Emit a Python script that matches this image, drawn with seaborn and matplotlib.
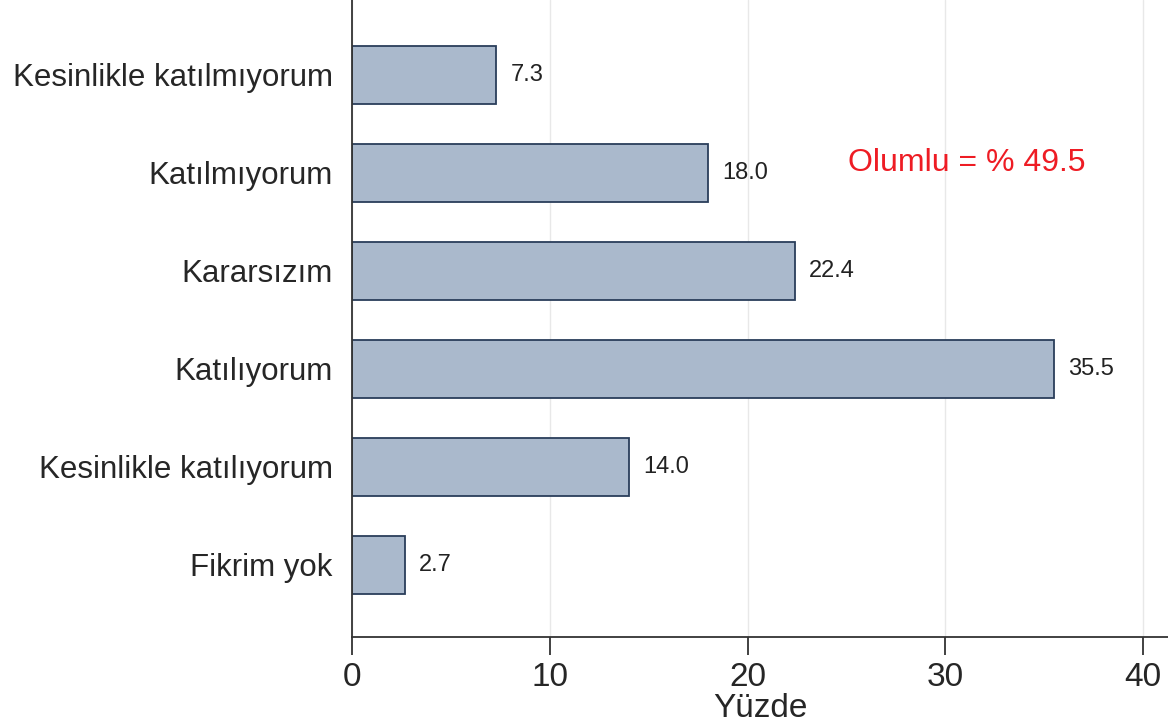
import matplotlib
matplotlib.use("Agg")
import matplotlib.pyplot as plt
import seaborn as sns
import pandas as pd

categories = [
    "Kesinlikle katılmıyorum",
    "Katılmıyorum",
    "Kararsızım",
    "Katılıyorum",
    "Kesinlikle katılıyorum",
    "Fikrim yok",
]
percent = [7.3, 18.0, 22.4, 35.5, 14.0, 2.7]
x_ticks = [0, 10, 20, 30, 40]
note = "Olumlu = % 49.5"

df = pd.DataFrame({"kategori": categories, "yuzde": percent})

sns.set_style("white")
plt.rcParams["font.family"] = ["Liberation Sans", "DejaVu Sans"]
plt.rcParams["xtick.bottom"] = True
plt.rcParams["xtick.direction"] = "out"

fig = plt.figure(figsize=(11.68, 7.27), dpi=100)
ax = fig.add_axes([0.3014, 0.1238, 0.6986, 0.8762])

sns.barplot(data=df, x="yuzde", y="kategori", order=categories, orient="h",
            color="#aab9cc", edgecolor="#2a3e5a", linewidth=1.3, width=0.59,
            saturation=1, ax=ax)

ax.bar_label(ax.containers[0], fmt="%.1f", padding=10, fontsize=17, color="#222222")

ax.set_xlim(0, 41.26)
ax.set_ylim(5.735, -0.765)
ax.set_xticks(x_ticks)
ax.set_xticklabels([str(t) for t in x_ticks], fontsize=24)
ax.xaxis.set_tick_params(which="major", bottom=True, direction="out", length=13,
                         width=1.3, color="#333333", pad=5)
ax.tick_params(axis="y", left=False, length=0, labelsize=22.5, pad=14)
ax.xaxis.grid(True, color="#e8e8e8", linewidth=1)
ax.set_axisbelow(True)

for s in ["top", "right"]:
    ax.spines[s].set_visible(False)
for s in ["left", "bottom"]:
    ax.spines[s].set_color("#333333")
    ax.spines[s].set_linewidth(1.3)

ax.set_xlabel("Yüzde", fontsize=24, labelpad=0)
ax.set_ylabel("")

ax.text(25.1, 0.9, note, color="#ee1c24", fontsize=23, va="center", ha="left")

fig.savefig("out.png", dpi=100)
